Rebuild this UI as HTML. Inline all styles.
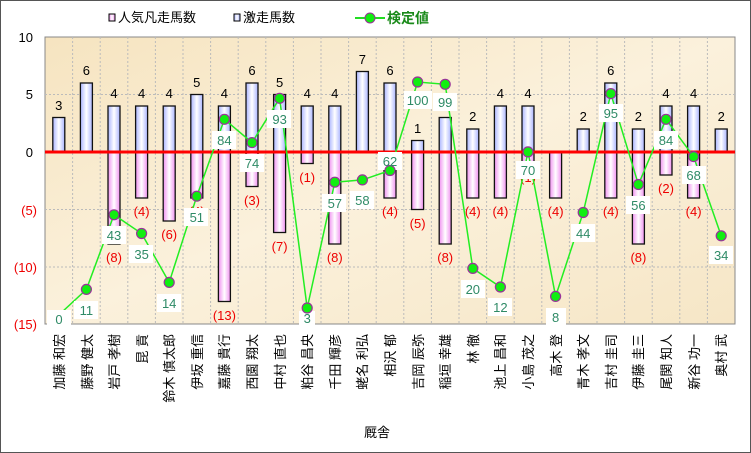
<!DOCTYPE html>
<html><head><meta charset="utf-8"><style>
body{margin:0;background:#fff}
svg{display:block;font-family:"Liberation Sans","Noto Sans CJK JP",sans-serif}
.pl{font-size:13px;fill:#000;text-anchor:middle}
.nl{font-size:13px;fill:#e00;text-anchor:middle}
.vl{font-size:13px;fill:#2e8a66;text-anchor:middle}
.ax{font-size:13px;fill:#000;text-anchor:end}
.axr{font-size:13px;fill:#e00;text-anchor:end}
.nm{font-size:13px;fill:#000;text-anchor:end}
</style></head><body>
<svg width="751" height="453" viewBox="0 0 751 453">
<defs>
<linearGradient id="gb" x1="0" x2="1"><stop offset="0" stop-color="#aab4ff"/><stop offset=".5" stop-color="#fff"/><stop offset="1" stop-color="#aab4ff"/></linearGradient>
<linearGradient id="gp" x1="0" x2="1"><stop offset="0" stop-color="#f090f0"/><stop offset=".5" stop-color="#fff"/><stop offset="1" stop-color="#f090f0"/></linearGradient>
<linearGradient id="bg" x1="0" y1="0" x2="1" y2="1"><stop offset="0" stop-color="#f6e4c0"/><stop offset=".5" stop-color="#fbf1dc"/><stop offset="1" stop-color="#f6e6c6"/></linearGradient>
</defs>
<rect x="0.5" y="0.5" width="750" height="452" fill="#fff" stroke="#555"/>
<rect x="109" y="14" width="6" height="7" fill="url(#gp)" stroke="#000"/>
<text x="118" y="22" font-size="13">人気凡走馬数</text>
<rect x="234" y="14" width="6" height="7" fill="url(#gb)" stroke="#000"/>
<text x="243" y="22" font-size="13">激走馬数</text>
<line x1="355" y1="18" x2="385" y2="18" stroke="#2d2" stroke-width="2"/>
<circle cx="370" cy="18" r="5" fill="#1e1" stroke="#939"/>
<text x="387" y="23" font-size="14" font-weight="bold" fill="#1a8a1a">検定値</text>
<rect x="45" y="37" width="690" height="287" fill="url(#bg)" stroke="#888"/>
<g stroke="#bbb" stroke-dasharray="2,2">
<line x1="45" y1="94.5" x2="735" y2="94.5"/><line x1="45" y1="209.5" x2="735" y2="209.5"/><line x1="45" y1="267" x2="735" y2="267"/>
<line x1="72.6" y1="37" x2="72.6" y2="324"/><line x1="100.2" y1="37" x2="100.2" y2="324"/><line x1="127.8" y1="37" x2="127.8" y2="324"/><line x1="155.4" y1="37" x2="155.4" y2="324"/><line x1="183" y1="37" x2="183" y2="324"/><line x1="210.6" y1="37" x2="210.6" y2="324"/><line x1="238.2" y1="37" x2="238.2" y2="324"/><line x1="265.8" y1="37" x2="265.8" y2="324"/><line x1="293.4" y1="37" x2="293.4" y2="324"/><line x1="321" y1="37" x2="321" y2="324"/><line x1="348.6" y1="37" x2="348.6" y2="324"/><line x1="376.2" y1="37" x2="376.2" y2="324"/><line x1="403.8" y1="37" x2="403.8" y2="324"/><line x1="431.4" y1="37" x2="431.4" y2="324"/><line x1="459" y1="37" x2="459" y2="324"/><line x1="486.6" y1="37" x2="486.6" y2="324"/><line x1="514.2" y1="37" x2="514.2" y2="324"/><line x1="541.8" y1="37" x2="541.8" y2="324"/><line x1="569.4" y1="37" x2="569.4" y2="324"/><line x1="597" y1="37" x2="597" y2="324"/><line x1="624.6" y1="37" x2="624.6" y2="324"/><line x1="652.2" y1="37" x2="652.2" y2="324"/><line x1="679.8" y1="37" x2="679.8" y2="324"/><line x1="707.4" y1="37" x2="707.4" y2="324"/>
</g>
<text class="ax" x="33" y="42">10</text><text class="ax" x="33" y="99">5</text><text class="ax" x="33" y="157">0</text>
<text class="axr" x="37" y="215">(5)</text><text class="axr" x="37" y="272">(10)</text><text class="axr" x="37" y="329">(15)</text>
<g fill="url(#gb)" stroke="#111" stroke-width="1.3">
<rect x="52.8" y="117.5" width="12" height="34.5"/><rect x="80.4" y="83" width="12" height="69"/><rect x="108" y="106" width="12" height="46"/><rect x="135.6" y="106" width="12" height="46"/><rect x="163.2" y="106" width="12" height="46"/><rect x="190.8" y="94.5" width="12" height="57.5"/><rect x="218.4" y="106" width="12" height="46"/><rect x="246" y="83" width="12" height="69"/><rect x="273.6" y="94.5" width="12" height="57.5"/><rect x="301.2" y="106" width="12" height="46"/><rect x="328.8" y="106" width="12" height="46"/><rect x="356.4" y="71.5" width="12" height="80.5"/><rect x="384" y="83" width="12" height="69"/><rect x="411.6" y="140.5" width="12" height="11.5"/><rect x="439.2" y="117.5" width="12" height="34.5"/><rect x="466.8" y="129" width="12" height="23"/><rect x="494.4" y="106" width="12" height="46"/><rect x="522" y="106" width="12" height="46"/><rect x="577.2" y="129" width="12" height="23"/><rect x="604.8" y="83" width="12" height="69"/><rect x="632.4" y="129" width="12" height="23"/><rect x="660" y="106" width="12" height="46"/><rect x="687.6" y="106" width="12" height="46"/><rect x="715.2" y="129" width="12" height="23"/>
</g>
<g fill="url(#gp)" stroke="#111" stroke-width="1.3">
<rect x="108" y="152" width="12" height="92"/><rect x="135.6" y="152" width="12" height="46"/><rect x="163.2" y="152" width="12" height="69"/><rect x="190.8" y="152" width="12" height="46"/><rect x="218.4" y="152" width="12" height="149.5"/><rect x="246" y="152" width="12" height="34.5"/><rect x="273.6" y="152" width="12" height="80.5"/><rect x="301.2" y="152" width="12" height="11.5"/><rect x="328.8" y="152" width="12" height="92"/><rect x="384" y="152" width="12" height="46"/><rect x="411.6" y="152" width="12" height="57.5"/><rect x="439.2" y="152" width="12" height="92"/><rect x="466.8" y="152" width="12" height="46"/><rect x="494.4" y="152" width="12" height="46"/><rect x="522" y="152" width="12" height="11.5"/><rect x="549.6" y="152" width="12" height="46"/><rect x="604.8" y="152" width="12" height="46"/><rect x="632.4" y="152" width="12" height="92"/><rect x="660" y="152" width="12" height="23"/><rect x="687.6" y="152" width="12" height="46"/>
</g>
<line x1="45" y1="152" x2="735" y2="152" stroke="#f00" stroke-width="3"/>
<g class="pl">
<text x="58.8" y="110">3</text><text x="86.4" y="75">6</text><text x="114" y="98">4</text><text x="141.6" y="98">4</text><text x="169.2" y="98">4</text><text x="196.8" y="87">5</text><text x="224.4" y="98">4</text><text x="252" y="75">6</text><text x="279.6" y="87">5</text><text x="307.2" y="98">4</text><text x="334.8" y="98">4</text><text x="362.4" y="64">7</text><text x="390" y="75">6</text><text x="417.6" y="133">1</text><text x="472.8" y="121">2</text><text x="500.4" y="98">4</text><text x="528" y="98">4</text><text x="583.2" y="121">2</text><text x="610.8" y="75">6</text><text x="638.4" y="121">2</text><text x="666" y="98">4</text><text x="693.6" y="98">4</text><text x="721.2" y="121">2</text>
</g>
<g class="nl">
<text x="114" y="262">(8)</text><text x="141.6" y="216">(4)</text><text x="169.2" y="239">(6)</text><text x="196.8" y="216">(4)</text><text x="224.4" y="320">(13)</text><text x="252" y="205">(3)</text><text x="279.6" y="251">(7)</text><text x="307.2" y="182">(1)</text><text x="334.8" y="262">(8)</text><text x="390" y="216">(4)</text><text x="417.6" y="228">(5)</text><text x="445.2" y="262">(8)</text><text x="472.8" y="216">(4)</text><text x="500.4" y="216">(4)</text><text x="528" y="182">(1)</text><text x="555.6" y="216">(4)</text><text x="610.8" y="216">(4)</text><text x="638.4" y="262">(8)</text><text x="666" y="193">(2)</text><text x="693.6" y="216">(4)</text>
</g>
<polyline fill="none" stroke="#2e2" stroke-width="1.5" points="58.8,315 86.4,289.4 114,214.8 141.6,233.5 169.2,282.4 196.8,196.2 224.4,119.3 252,142.6 279.6,98.3 307.2,308 334.8,182.2 362.4,179.9 390,170.5 417.6,82 445.2,84.3 472.8,268.4 500.4,287 528,151.9 555.6,296.4 583.2,212.5 610.8,93.6 638.4,184.5 666,119.3 693.6,156.6 721.2,235.8"/>
<g fill="#fff">
<rect x="47" y="310" width="24" height="18"/><rect x="74" y="301" width="24" height="18"/><rect x="102" y="226" width="24" height="18"/><rect x="129" y="245" width="24" height="18"/><rect x="157" y="294" width="24" height="18"/><rect x="184" y="208" width="24" height="18"/><rect x="212" y="131" width="24" height="18"/><rect x="240" y="154" width="24" height="18"/><rect x="267" y="110" width="24" height="18"/><rect x="299" y="311" width="16" height="14"/><rect x="322" y="194" width="24" height="18"/><rect x="350" y="191" width="24" height="18"/><rect x="378" y="152" width="24" height="18"/><rect x="404" y="91" width="28" height="18"/><rect x="433" y="93" width="24" height="18"/><rect x="461" y="280" width="24" height="18"/><rect x="488" y="298" width="24" height="18"/><rect x="516" y="161" width="24" height="18"/><rect x="546" y="308" width="20" height="18"/><rect x="571" y="224" width="24" height="18"/><rect x="599" y="104" width="24" height="18"/><rect x="626" y="196" width="24" height="18"/><rect x="654" y="131" width="24" height="18"/><rect x="682" y="166" width="24" height="18"/><rect x="709" y="246" width="24" height="18"/>
</g>
<g fill="#1e1" stroke="#939" stroke-width="1.2">
<circle cx="86.4" cy="289.4" r="5"/><circle cx="114" cy="214.8" r="5"/><circle cx="141.6" cy="233.5" r="5"/><circle cx="169.2" cy="282.4" r="5"/><circle cx="196.8" cy="196.2" r="5"/><circle cx="224.4" cy="119.3" r="5"/><circle cx="252" cy="142.6" r="5"/><circle cx="279.6" cy="98.3" r="5"/><circle cx="307.2" cy="308" r="5"/><circle cx="334.8" cy="182.2" r="5"/><circle cx="362.4" cy="179.9" r="5"/><circle cx="390" cy="170.5" r="5"/><circle cx="417.6" cy="82" r="5"/><circle cx="445.2" cy="84.3" r="5"/><circle cx="472.8" cy="268.4" r="5"/><circle cx="500.4" cy="287" r="5"/><circle cx="528" cy="151.9" r="5"/><circle cx="555.6" cy="296.4" r="5"/><circle cx="583.2" cy="212.5" r="5"/><circle cx="610.8" cy="93.6" r="5"/><circle cx="638.4" cy="184.5" r="5"/><circle cx="666" cy="119.3" r="5"/><circle cx="693.6" cy="156.6" r="5"/><circle cx="721.2" cy="235.8" r="5"/>
</g>
<g class="vl">
<text x="59" y="324">0</text><text x="86.4" y="315">11</text><text x="114" y="240">43</text><text x="141.6" y="259">35</text><text x="169.2" y="308">14</text><text x="196.8" y="222">51</text><text x="224.4" y="145">84</text><text x="252" y="168">74</text><text x="279.6" y="124">93</text><text x="307.2" y="323">3</text><text x="334.8" y="208">57</text><text x="362.4" y="205">58</text><text x="390" y="166">62</text><text x="417.6" y="105">100</text><text x="445.2" y="107">99</text><text x="472.8" y="294">20</text><text x="500.4" y="312">12</text><text x="528" y="175">70</text><text x="555.6" y="322">8</text><text x="583.2" y="238">44</text><text x="610.8" y="118">95</text><text x="638.4" y="210">56</text><text x="666" y="145">84</text><text x="693.6" y="180">68</text><text x="721.2" y="260">34</text>
</g>
<g class="nm">
<text transform="translate(64,334) rotate(-90)">加藤 和宏</text>
<text transform="translate(92,334) rotate(-90)">藤野 健太</text>
<text transform="translate(119,334) rotate(-90)">岩戸 孝樹</text>
<text transform="translate(147,334) rotate(-90)">昆 貢</text>
<text transform="translate(174,334) rotate(-90)">鈴木 慎太郎</text>
<text transform="translate(202,334) rotate(-90)">伊坂 重信</text>
<text transform="translate(229,334) rotate(-90)">嘉藤 貴行</text>
<text transform="translate(257,334) rotate(-90)">西園 翔太</text>
<text transform="translate(285,334) rotate(-90)">中村 直也</text>
<text transform="translate(312,334) rotate(-90)">粕谷 昌央</text>
<text transform="translate(340,334) rotate(-90)">千田 輝彦</text>
<text transform="translate(367,334) rotate(-90)">蛯名 利弘</text>
<text transform="translate(395,334) rotate(-90)">相沢 郁</text>
<text transform="translate(423,334) rotate(-90)">吉岡 辰弥</text>
<text transform="translate(450,334) rotate(-90)">稲垣 幸雄</text>
<text transform="translate(478,334) rotate(-90)">林 徹</text>
<text transform="translate(505,334) rotate(-90)">池上 昌和</text>
<text transform="translate(533,334) rotate(-90)">小島 茂之</text>
<text transform="translate(561,334) rotate(-90)">高木 登</text>
<text transform="translate(588,334) rotate(-90)">青木 孝文</text>
<text transform="translate(616,334) rotate(-90)">吉村 圭司</text>
<text transform="translate(643,334) rotate(-90)">伊藤 圭三</text>
<text transform="translate(671,334) rotate(-90)">尾関 知人</text>
<text transform="translate(699,334) rotate(-90)">新谷 功一</text>
<text transform="translate(726,334) rotate(-90)">奥村 武</text>
</g>
<text x="377" y="437" font-size="13" text-anchor="middle">厩舎</text>
</svg>
</body></html>
